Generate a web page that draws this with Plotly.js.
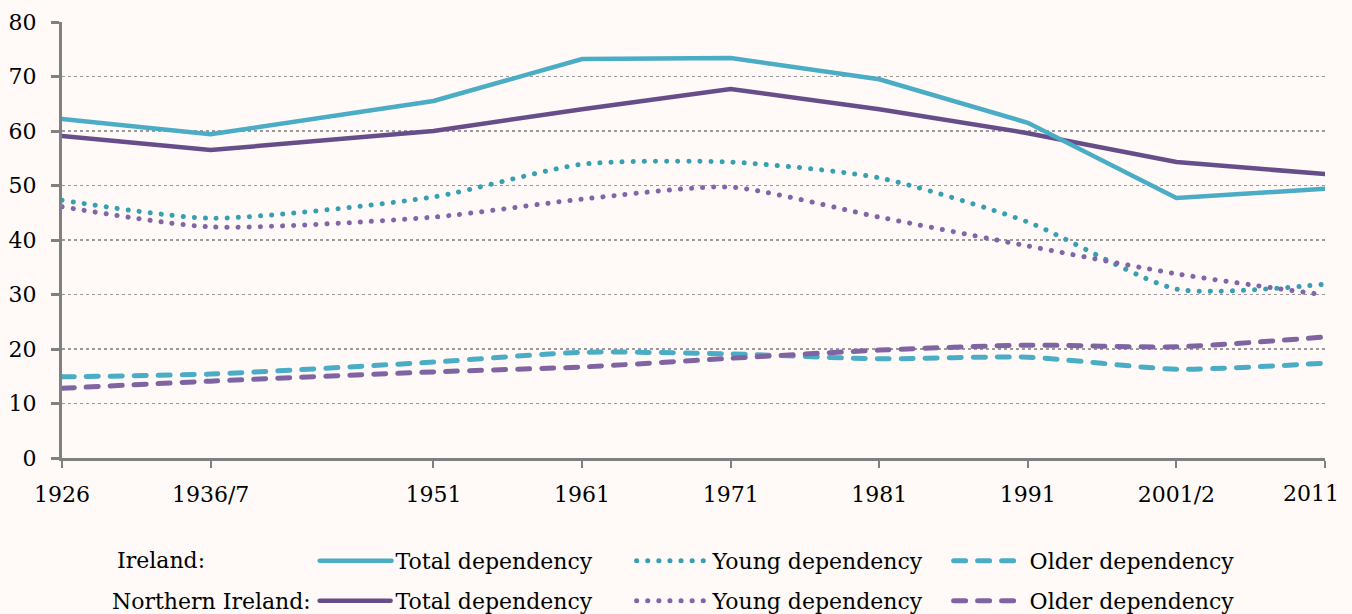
<!DOCTYPE html>
<html>
<head>
<meta charset="utf-8">
<script src="https://cdn.plot.ly/plotly-3.0.1.min.js"></script>
<style>
html,body{margin:0;padding:0;background:#fffaf7;}
#chart{width:1352px;height:614px;}
path.js-line{stroke-linecap:round !important;}
.legend .legendlines path.js-line{d: path("M5,0h72");}
</style>
</head>
<body>
<div id="chart"></div>
<script>
var years = [1926, 1936, 1951, 1961, 1971, 1981, 1991, 2001, 2011];
var tickLabels = ["1926", "1936/7", "1951", "1961", "1971", "1981", "1991", "2001/2", "2011"];

var ieTotal = [62.2, 59.4, 65.5, 73.2, 73.4, 69.5, 61.5, 47.7, 49.4];
var ieYoung = [47.3, 44.0, 47.9, 53.9, 54.3, 51.4, 43.3, 31.0, 31.9];
var ieOlder = [14.9, 15.4, 17.6, 19.4, 19.1, 18.2, 18.5, 16.3, 17.4];

var niTotal = [59.1, 56.5, 60.0, 64.0, 67.7, 64.0, 59.6, 54.3, 52.1];
var niYoung = [46.1, 42.4, 44.2, 47.5, 49.7, 44.2, 38.9, 33.8, 29.9];
var niOlder = [12.8, 14.1, 15.8, 16.7, 18.3, 19.8, 20.7, 20.4, 22.2];

var cIE = "#4bacc6", cIEy = "#36a0b2", cNI = "#674e8b", cNIy = "#8264a8", cNIo = "#8064a2";

function tr(y, name, color, dash, shape, legend) {
  return {
    x: years, y: y, name: name, type: "scatter", mode: "lines",
    line: {color: color, width: dash === "solid" ? 4.5 : 5, dash: dash, shape: shape, smoothing: 0.65},
    legend: legend, hoverinfo: "skip"
  };
}
var DOT = "0.1px,11px", DASH = "12px,12px";
var ieTotalTrace = tr(ieTotal, "Total dependency", cIE, "solid", "linear", "legend");
ieTotalTrace.xaxis = "x2";
var data = [
  tr(ieOlder, "Older dependency", cIE, DASH, "spline", "legend"),
  tr(niOlder, "Older dependency", cNIo, DASH, "spline", "legend2"),
  tr(ieYoung, "Young dependency", cIEy, DOT, "spline", "legend"),
  tr(niYoung, "Young dependency", cNIy, DOT, "spline", "legend2"),
  ieTotalTrace,
  tr(niTotal, "Total dependency", cNI, "solid", "linear", "legend2")
];

var last = years.length - 1;
var mainText = tickLabels.map(function (t, i) { return i === last ? "" : t; });

var serif = "DejaVu Serif, serif";
var legendCommon = {
  orientation: "h", traceorder: "reversed", entrywidth: 231, entrywidthmode: "pixels",
  xanchor: "left", yanchor: "middle", x: 0.200,
  font: {family: serif, size: 22, color: "#000"},
  bgcolor: "rgba(0,0,0,0)", itemwidth: 71
};
var leg1 = Object.assign({}, legendCommon, {y: -0.236});
var leg2 = Object.assign({}, legendCommon, {y: -0.328});

var layout = {
  width: 1352, height: 614,
  margin: {l: 62, r: 27, t: 22, b: 156, autoexpand: false},
  paper_bgcolor: "#fffaf7", plot_bgcolor: "#fffaf7",
  font: {family: serif, size: 22, color: "#000"},
  showlegend: true,
  legend: leg1, legend2: leg2,
  xaxis: {
    range: [1926, 2011], tickvals: years, ticktext: mainText,
    showline: true, linecolor: "#808080", linewidth: 3,
    ticks: "outside", ticklen: 7, tickwidth: 2, tickcolor: "#808080",
    showgrid: false, zeroline: false, ticklabelstandoff: 8,
    tickfont: {family: serif, size: 22, color: "#000"}
  },
  xaxis2: {
    range: [1926, 2011], overlaying: "x", anchor: "y", side: "bottom",
    tickvals: [years[last]], ticktext: [tickLabels[last]],
    showline: false, ticks: "", showgrid: false, zeroline: false,
    ticklabelstandoff: 20, ticklabelshift: -14, ticklabeloverflow: "allow",
    tickfont: {family: serif, size: 22, color: "#000"}
  },
  yaxis: {
    range: [0, 80], dtick: 10, tick0: 0,
    showline: true, linecolor: "#808080", linewidth: 3,
    ticks: "outside", ticklen: 8, tickwidth: 3, tickcolor: "#808080",
    showgrid: true, gridcolor: "#9a9a9a", gridwidth: 1.5, griddash: "dot",
    zeroline: false, ticklabelstandoff: 10,
    tickfont: {family: serif, size: 22, color: "#000"}
  },
  annotations: [
    {text: "Ireland:", xref: "paper", yref: "paper", x: (115 - 62) / 1263, y: -0.236, xanchor: "left", yanchor: "middle", showarrow: false, font: {family: serif, size: 22, color: "#000"}},
    {text: "Northern Ireland:", xref: "paper", yref: "paper", x: (110 - 62) / 1263, y: -0.328, xanchor: "left", yanchor: "middle", showarrow: false, font: {family: serif, size: 22, color: "#000"}}
  ]
};

Plotly.newPlot("chart", data, layout, {displayModeBar: false, staticPlot: true});
</script>
</body>
</html>
